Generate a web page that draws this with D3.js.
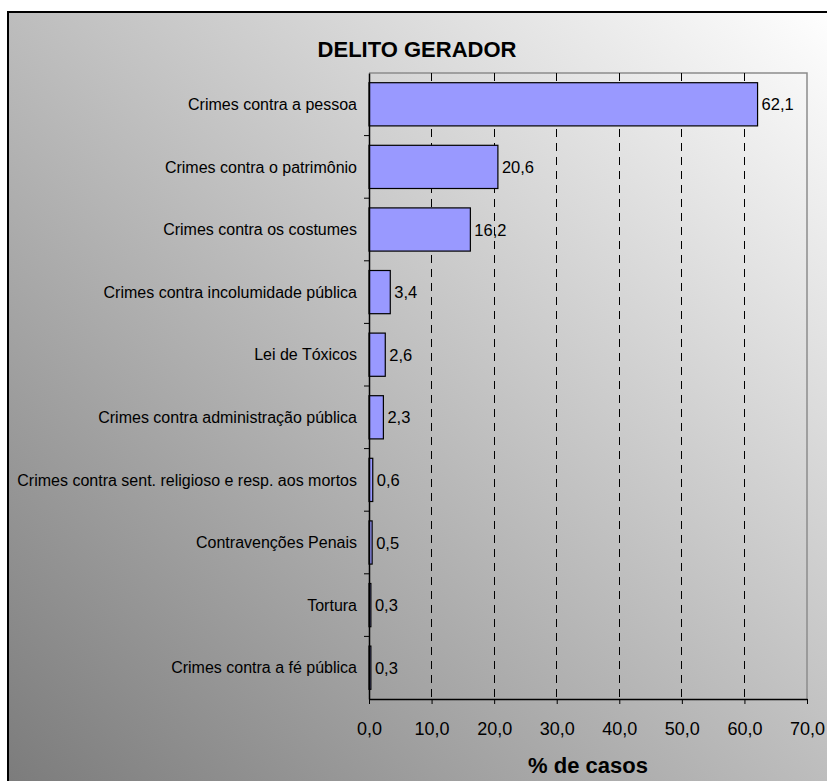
<!DOCTYPE html>
<html>
<head>
<meta charset="utf-8">
<script src="https://cdn.jsdelivr.net/npm/d3@7/dist/d3.min.js"></script>
<style>
  html, body { margin: 0; padding: 0; background: #fff; }
  svg { display: block; font-family: "Liberation Sans", Arial, sans-serif; }
</style>
</head>
<body>
<svg id="chart" width="827" height="781"></svg>
<script>
// Offence categories (top to bottom) and share of cases (%)
const categories = [
  "Crimes contra a pessoa",
  "Crimes contra o patrimônio",
  "Crimes contra os costumes",
  "Crimes contra incolumidade pública",
  "Lei de Tóxicos",
  "Crimes contra administração pública",
  "Crimes contra sent. religioso e resp. aos mortos",
  "Contravenções Penais",
  "Tortura",
  "Crimes contra a fé pública"
];
const percentages = [62.1, 20.6, 16.2, 3.4, 2.6, 2.3, 0.6, 0.5, 0.3, 0.3];
const xTicks = [0, 10, 20, 30, 40, 50, 60, 70];
const chartTitle = "DELITO GERADOR";
const xAxisTitle = "% de casos";

const ptBR = d3.formatLocale({ decimal: ",", thousands: ".", grouping: [3], currency: ["R$", ""] });
const fmt1 = ptBR.format(".1f");

const svg = d3.select("#chart");

// Diagonal grey-to-white background
const defs = svg.append("defs");
const grad = defs.append("linearGradient")
  .attr("id", "bg").attr("x1", 0).attr("y1", 1).attr("x2", 1).attr("y2", 0);
grad.append("stop").attr("offset", "0%").attr("stop-color", "#7b7b7b");
grad.append("stop").attr("offset", "100%").attr("stop-color", "#ffffff");

svg.append("rect")
  .attr("x", 8).attr("y", 12).attr("width", 830).attr("height", 780)
  .attr("fill", "url(#bg)").attr("stroke", "#000").attr("stroke-width", 2);

// Plot area
const plot = { left: 369, right: 807, top: 73, bottom: 699 };

const x = d3.scaleLinear().domain([0, 70]).range([plot.left, plot.right]);
const y = d3.scaleBand().domain(categories).range([plot.top, plot.bottom])
  .paddingInner(0.31).paddingOuter(0.155);

// Plot frame (top and right edges)
svg.append("path")
  .attr("d", `M${plot.left},${plot.top}H${plot.right}V${plot.bottom}`)
  .attr("fill", "none").attr("stroke", "#8c8c8c").attr("stroke-width", 1.5);

// Dashed vertical gridlines
svg.append("g").selectAll("line")
  .data(xTicks.filter(t => t > 0 && t < 70))
  .join("line")
  .attr("x1", d => x(d)).attr("x2", d => x(d))
  .attr("y1", plot.top).attr("y2", plot.bottom)
  .attr("stroke", "#000").attr("stroke-width", 1)
  .attr("stroke-dasharray", "8,6")
  .attr("shape-rendering", "crispEdges");

// Bars
svg.append("g").selectAll("rect")
  .data(percentages)
  .join("rect")
  .attr("x", x(0))
  .attr("y", (d, i) => y(categories[i]))
  .attr("width", d => x(d) - x(0))
  .attr("height", y.bandwidth())
  .attr("fill", "#9999ff")
  .attr("stroke", "#000").attr("stroke-width", 1.2);

// Value labels
svg.append("g").selectAll("text")
  .data(percentages)
  .join("text")
  .attr("x", d => x(d) + 4)
  .attr("y", (d, i) => y(categories[i]) + y.bandwidth() / 2 + 6)
  .attr("font-size", 16.5)
  .attr("fill", "#000")
  .text(d => fmt1(d));

// Category axis (left)
const yAxis = d3.axisLeft(y).tickSize(5).tickPadding(7).tickSizeOuter(0);
const gy = svg.append("g").attr("transform", `translate(${plot.left},0)`).call(yAxis);
gy.select(".domain").attr("stroke", "#000").attr("stroke-width", 1.5);
// ticks sit between categories
gy.selectAll(".tick line")
  .attr("transform", `translate(0,${y.step() / 2})`)
  .attr("stroke", "#000");
gy.selectAll(".tick").filter((d, i) => i === categories.length - 1).select("line").remove();
gy.selectAll(".tick text")
  .attr("font-size", 16).attr("fill", "#000")
  .attr("font-family", "Liberation Sans, Arial, sans-serif")
  .attr("dy", "0.36em");

// Value axis (bottom)
const xAxis = d3.axisBottom(x).tickValues(xTicks).tickFormat(fmt1)
  .tickSize(5).tickPadding(18).tickSizeOuter(0);
const gx = svg.append("g").attr("transform", `translate(0,${plot.bottom})`).call(xAxis);
gx.select(".domain").attr("stroke", "#000").attr("stroke-width", 1.5);
gx.selectAll(".tick line").attr("stroke", "#000");
gx.selectAll(".tick text")
  .attr("font-size", 18).attr("fill", "#000")
  .attr("font-family", "Liberation Sans, Arial, sans-serif");

// Titles
svg.append("text")
  .attr("x", 417).attr("y", 57)
  .attr("text-anchor", "middle")
  .attr("font-size", 22).attr("font-weight", "bold")
  .text(chartTitle);

svg.append("text")
  .attr("x", (plot.left + plot.right) / 2).attr("y", 773)
  .attr("text-anchor", "middle")
  .attr("font-size", 22).attr("font-weight", "bold")
  .text(xAxisTitle);
</script>
</body>
</html>
